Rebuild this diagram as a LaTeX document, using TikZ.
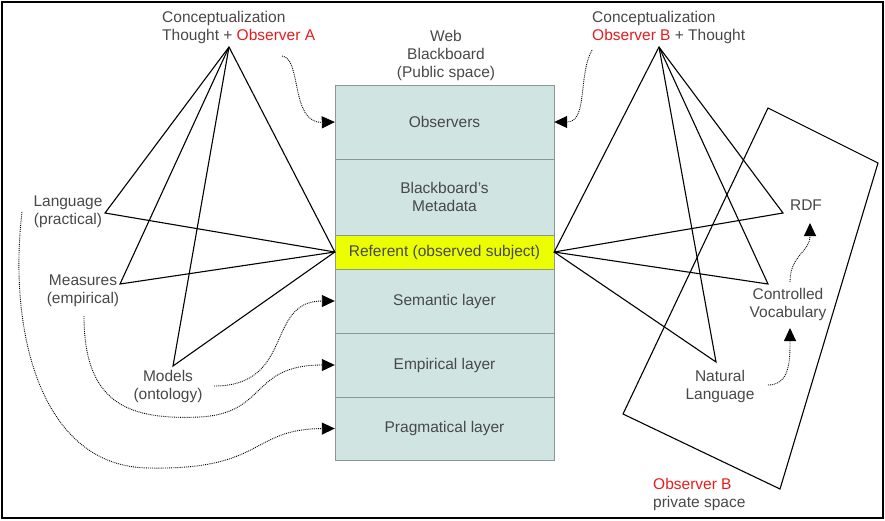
\documentclass[tikz,border=0pt]{standalone}
\usepackage{fontspec}
\setmainfont{Liberation Sans}
\usetikzlibrary{arrows.meta}
\definecolor{txtgray}{RGB}{72,72,72}
\definecolor{obsred}{RGB}{232,28,28}
\definecolor{boardfill}{RGB}{208,228,226}
\definecolor{boardline}{RGB}{140,150,150}
\definecolor{refyellow}{RGB}{236,255,0}
\tikzset{
  lbl/.style={text=txtgray, font=\fontsize{15.5}{18}\selectfont, inner sep=0pt, align=center},
  lblleft/.style={lbl, align=left, anchor=west},
  layerbox/.style={draw=boardline, fill=boardfill, minimum width=219pt, inner sep=0pt,
    text=txtgray, font=\fontsize{15.5}{18}\selectfont, align=center},
  tri/.style={draw=black, line width=1.1pt, line join=miter},
  flow/.style={draw=black, densely dotted, line width=0.9pt,
    -{Triangle[length=13pt,width=12pt]}},
}
\newcommand{\obs}[1]{\textcolor{obsred}{#1}}
\begin{document}
\begin{tikzpicture}[x=1pt,y=-1pt]
\useasboundingbox (0,0) rectangle (885,520);
\draw[line width=1.5pt] (2,2) rectangle (883,518);

% blackboard layers
\node[layerbox, minimum height=74pt] (observers) at (444.5,122) {Observers};
\node[layerbox, minimum height=76pt] (metadata) at (444.5,197) {Blackboard's\\Metadata};
\node[layerbox, fill=refyellow, minimum height=34pt] (referent) at (444.5,252) {Referent (observed subject)};
\node[layerbox, minimum height=64pt] (semantic) at (444.5,301) {Semantic layer};
\node[layerbox, minimum height=64pt] (empirical) at (444.5,365) {Empirical layer};
\node[layerbox, minimum height=63pt] (pragmatical) at (444.5,428.5) {Pragmatical layer};

\node[lbl] (web) at (446,55) {Web\\Blackboard\\(Public space)};

% observer B private space
\coordinate (pA) at (768,108);
\coordinate (pB) at (878,163);
\coordinate (pC) at (780,489);
\coordinate (pD) at (623,414);
\draw[tri] (pA) -- (pB) -- (pC) -- (pD) -- cycle;

% labels
\node[lblleft] (concA) at (162,27) {Conceptualization\\Thought + \obs{Observer A}};
\node[lblleft] (concB) at (592,27) {Conceptualization\\\obs{Observer B} + Thought};
\node[lbl] (language) at (68,212) {Language\\(practical)};
\node[lbl] (measures) at (83,291) {Measures\\(empirical)};
\node[lbl] (models) at (168,386) {Models\\(ontology)};
\node[lbl] (rdf) at (806,205) {RDF};
\node[lbl] (cv) at (788,304) {Controlled\\Vocabulary};
\node[lbl] (natural) at (720,386) {Natural\\Language};
\node[lblleft] (privB) at (653,494) {\obs{Observer B}\\private space};

% triangle vertices
\coordinate (apexA) at (229,47);
\coordinate (vLang) at (105,213);
\coordinate (vMeas) at (120,284);
\coordinate (vMod) at (173,366);
\coordinate (apexB) at (659,47);
\coordinate (vRdf) at (783,213);
\coordinate (vCv) at (768,284);
\coordinate (vNat) at (716,362);

% semiotic triangles of observer A
\draw[tri] (apexA) -- (vLang) -- (referent.west) -- cycle;
\draw[tri] (apexA) -- (vMeas) -- (referent.west);
\draw[tri] (apexA) -- (vMod) -- (referent.west);

% semiotic triangles of observer B
\draw[tri] (apexB) -- (vRdf) -- (referent.east) -- cycle;
\draw[tri] (apexB) -- (vCv) -- (referent.east);
\draw[tri] (apexB) -- (vNat) -- (referent.east);

% dotted flows
\coordinate (fA) at (282,56);
\coordinate (fB) at (592,50);
\coordinate (fMod) at (214,386);
\coordinate (fMeas) at (84,316);
\coordinate (fLang) at (22,212);
\coordinate (fNat) at (768,385);
\coordinate (fCv) at (790,282);
\coordinate (tCv) at (790,328);
\coordinate (tRdf) at (810,223);

\draw[flow] (fA) .. controls (302,58) and (290,123) .. (observers.west);
\draw[flow] (fB) .. controls (578,75) and (588,122) .. (observers.east);
\draw[flow] (fMod) .. controls (295,386) and (265,301) .. (semantic.west);
\draw[flow] (fMeas) .. controls (84,405) and (130,420) .. (200,417)
  .. controls (268,413) and (250,365) .. (empirical.west);
\draw[flow] (fLang) .. controls (8,330) and (40,468) .. (150,468)
  .. controls (265,470) and (250,429) .. (pragmatical.west);
\draw[flow] (fNat) .. controls (790,385) and (790,360) .. (tCv);
\draw[flow] (fCv) .. controls (790,255) and (810,252) .. (tRdf);
\end{tikzpicture}
\end{document}
